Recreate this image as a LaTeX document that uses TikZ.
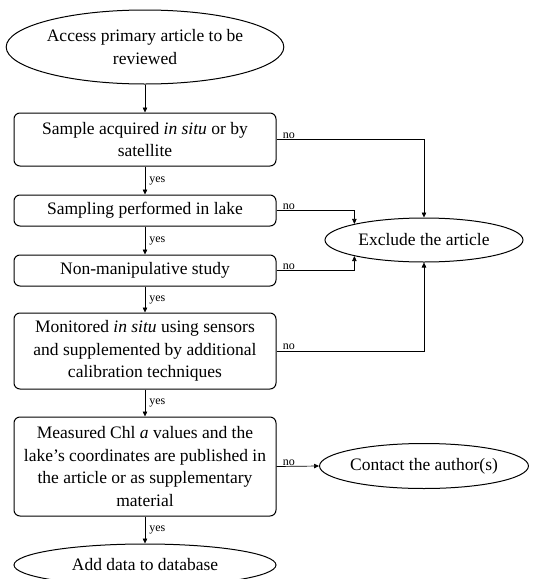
\documentclass[tikz,border=0pt]{standalone}
\usepackage{fontspec}
\setmainfont{Liberation Serif}
\usetikzlibrary{shapes.geometric,arrows.meta}
\begin{document}
\begin{tikzpicture}[x=1pt,y=-1pt,
  box/.style={draw, rounded corners=6pt, minimum width=262pt, align=center, inner sep=0pt, line width=1pt, font=\fontsize{17.5}{22.5}\selectfont},
  oval/.style={draw, ellipse, inner sep=0pt, align=center, line width=1pt, font=\fontsize{17.5}{22.5}\selectfont},
  conn/.style={line width=0.7pt, -{Triangle[length=5pt,width=4.5pt]}},
  lab/.style={font=\fontsize{12}{14}\selectfont, inner sep=1pt}]
\useasboundingbox (0,0) rectangle (553,579);
\clip (0,0) rectangle (553,579);

\node[oval, minimum width=262pt, minimum height=74pt] (start) at (145,47) {Access primary article to be\\reviewed};
\node[box, minimum height=53pt] (b1) at (145,139.5) {Sample acquired \textit{in situ} or by\\satellite};
\node[box, minimum height=31pt] (b2) at (145,210.5) {Sampling performed in lake};
\node[box, minimum height=31pt] (b3) at (145,270.5) {Non-manipulative study};
\node[box, minimum height=76pt] (b4) at (145,351) {Monitored \textit{in situ} using sensors\\and supplemented by additional\\calibration techniques};
\node[box, minimum height=99pt] (b5) at (145,466.5) {Measured Chl \textit{a} values and the\\lake’s coordinates are published in\\the article or as supplementary\\material};
\node[oval, minimum width=198pt, minimum height=44pt] (excl) at (424,240) {Exclude the article};
\node[oval, minimum width=198pt, minimum height=45pt] (contact) at (424,466) {Contact the author(s)};
\node[oval, minimum width=262pt, minimum height=42pt] (add) at (145,565) {Add data to database};

\draw[conn] (start) -- (b1);
\draw[conn] (b1) -- node[lab, right, xshift=3pt] {yes} (b2);
\draw[conn] (b2) -- node[lab, right, xshift=3pt] {yes} (b3);
\draw[conn] (b3) -- node[lab, right, xshift=3pt] {yes} (b4);
\draw[conn] (b4) -- node[lab, right, xshift=3pt] {yes} (b5);
\draw[conn] (b5) -- node[lab, right, xshift=3pt] {yes} (add);

\draw[conn] (b1.east) node[lab, anchor=south west, xshift=5pt] {no} -| (excl.north);
\draw[conn] (b2.east) node[lab, anchor=south west, xshift=5pt] {no} -| (excl.167);
\draw[conn] (b3.east) node[lab, anchor=south west, xshift=5pt] {no} -| (excl.193);
\draw[conn] (b4.east) node[lab, anchor=south west, xshift=5pt] {no} -| (excl.south);
\draw[conn] (b5.east) node[lab, anchor=south west, xshift=5pt] {no} -- (contact.west);
\end{tikzpicture}
\end{document}
